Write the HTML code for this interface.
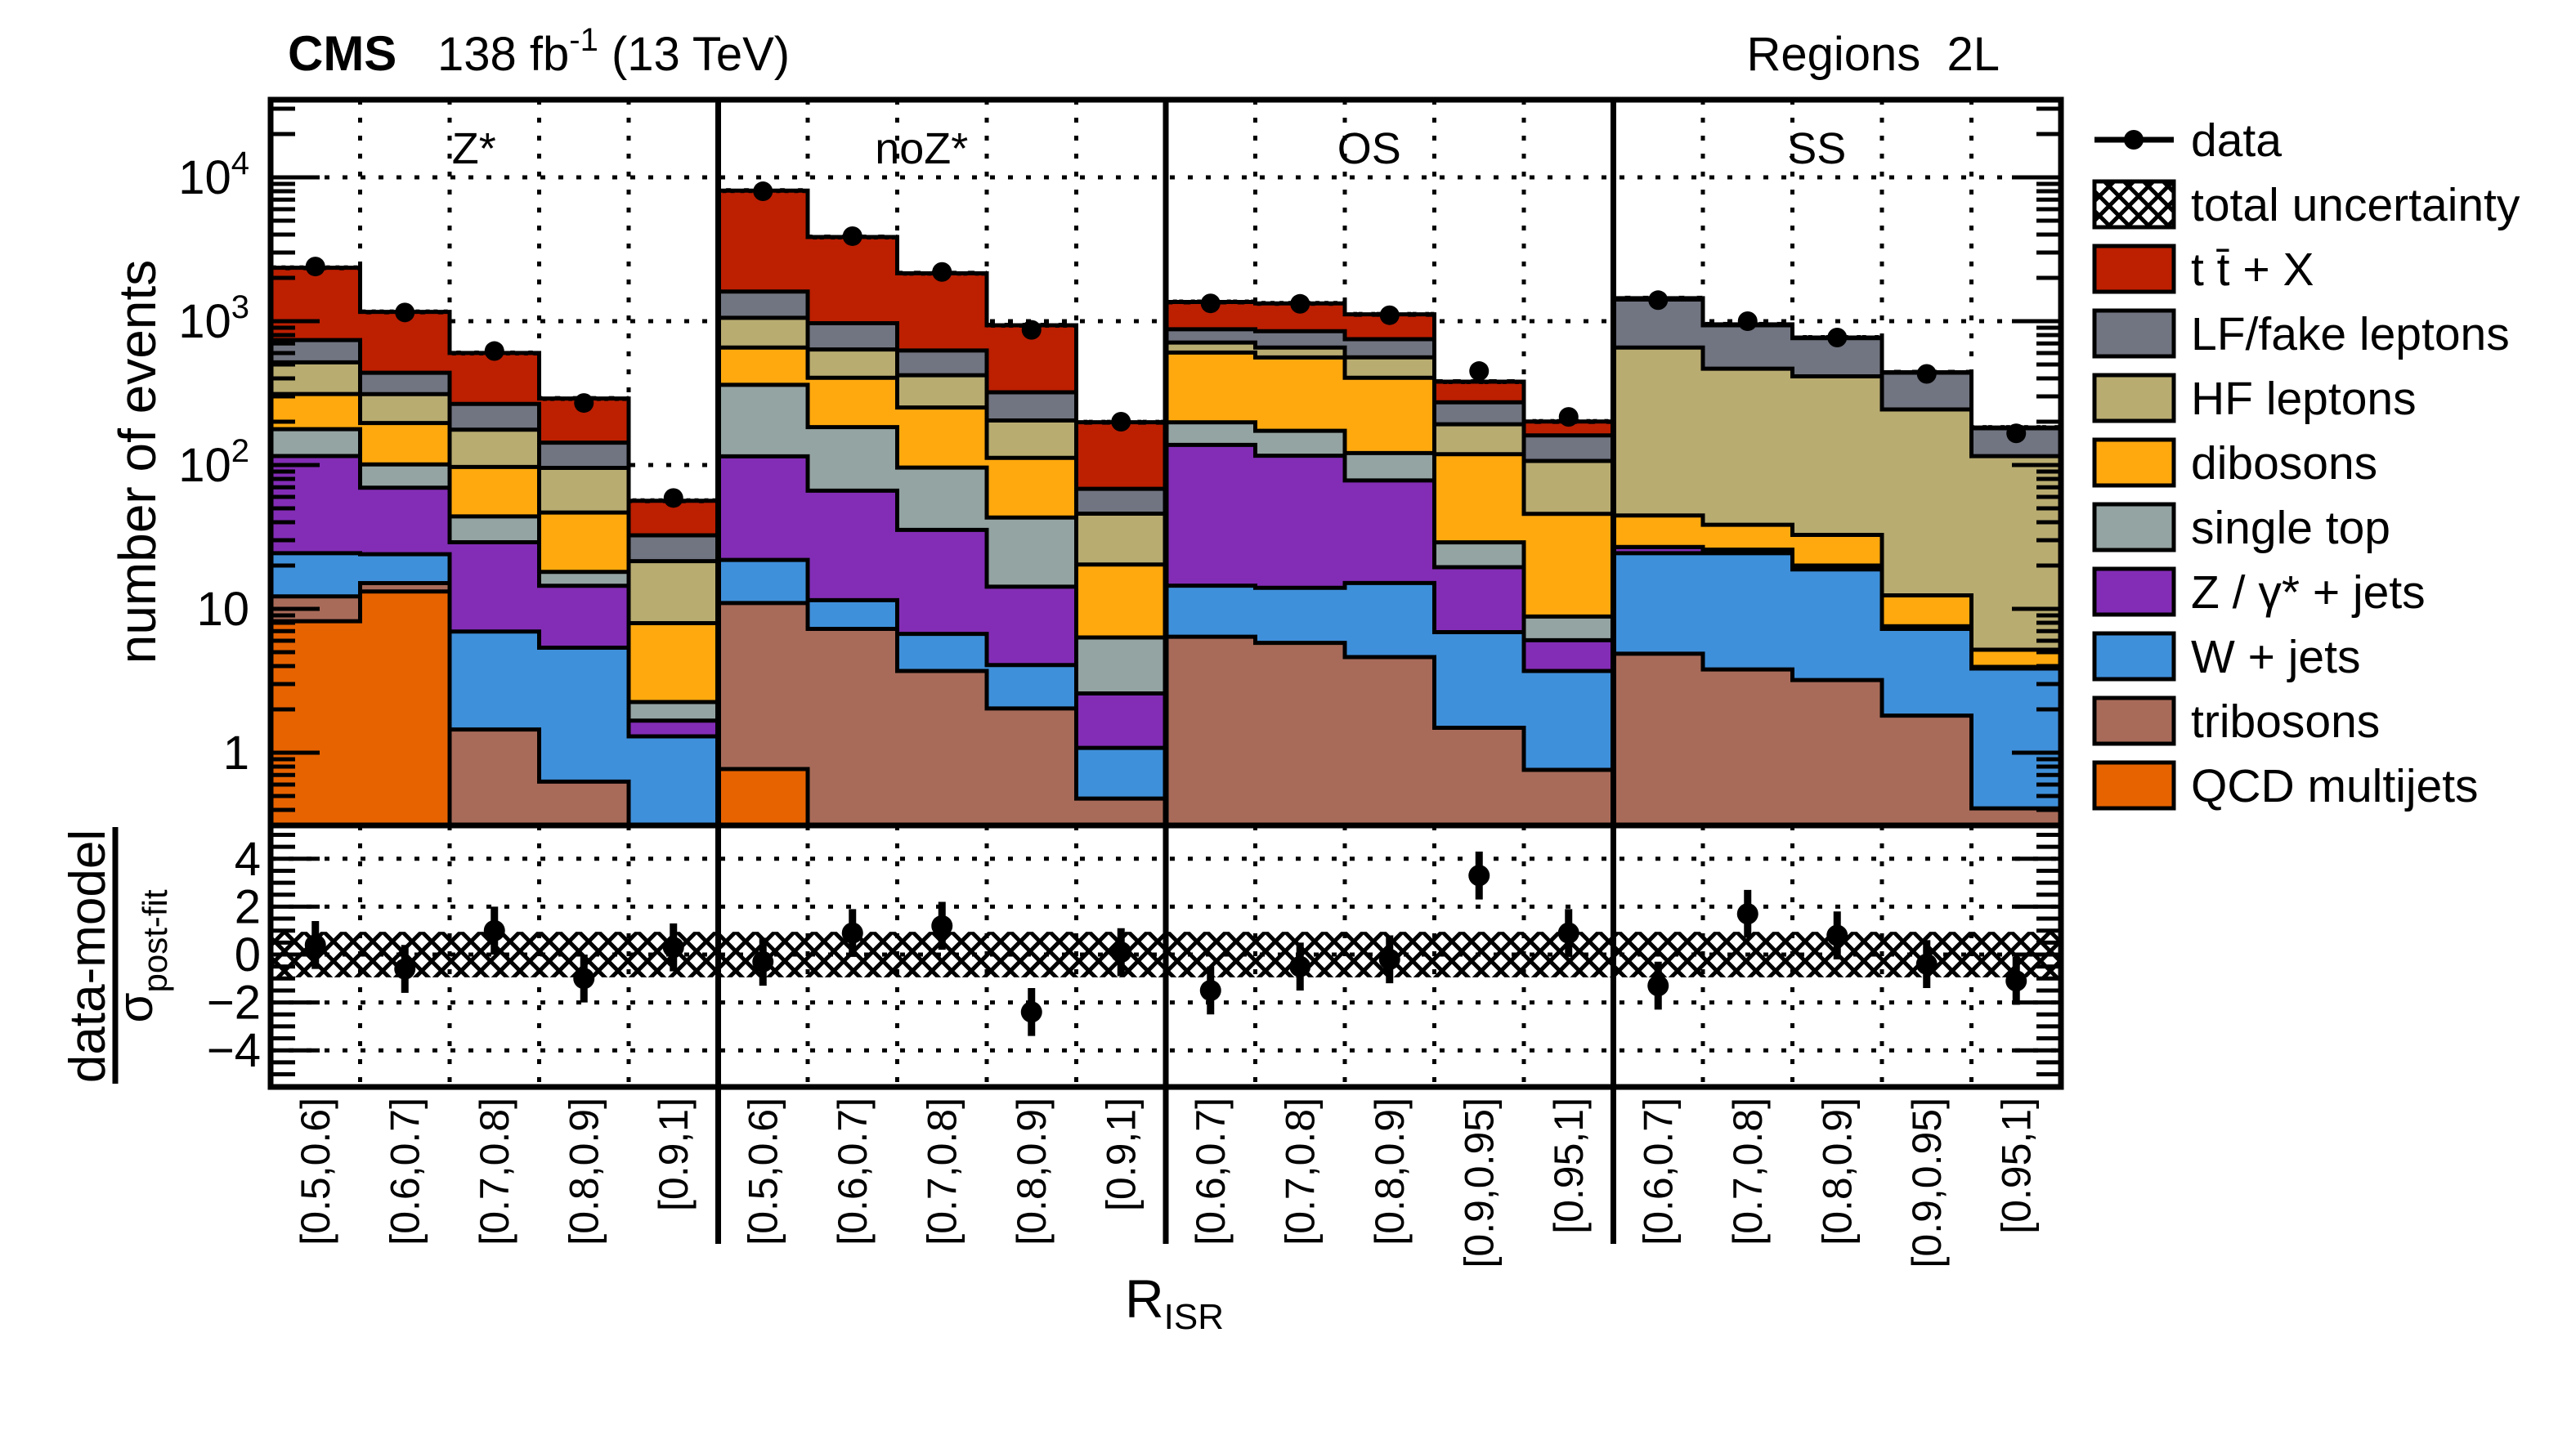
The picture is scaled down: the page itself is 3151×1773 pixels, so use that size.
<!DOCTYPE html>
<html><head><meta charset="utf-8"><style>
html,body{margin:0;padding:0;background:#fff;}
svg{display:block;font-family:"Liberation Sans",Arial,sans-serif;}
</style></head><body>
<svg id="chart" width="3151" height="1773" viewBox="0 0 3151 1773" xmlns="http://www.w3.org/2000/svg">
<defs>
<pattern id="hatch" width="22" height="22" patternUnits="userSpaceOnUse">
<path d="M0,0 L22,22 M22,0 L0,22" stroke="#000" stroke-width="3.5" fill="none"/>
</pattern>
<pattern id="hatch2" width="24" height="24" patternUnits="userSpaceOnUse">
<path d="M0,0 L24,24 M24,0 L0,24" stroke="#000" stroke-width="5" fill="none"/>
</pattern>
<clipPath id="upclip"><rect x="331" y="122" width="2190" height="888"/></clipPath>
</defs>
<g id="grid"></g>
<g id="stack" clip-path="url(#upclip)"></g>
<g id="unc" clip-path="url(#upclip)"></g>
<g id="datapts"></g>
<g id="lower"></g>
<g id="axes"></g>
<g id="legend"></g>

<text x="352" y="86" font-size="60" font-weight="bold">CMS</text>
<text x="535" y="86" font-size="58">138 fb<tspan dy="-24" font-size="40">-1</tspan><tspan dy="24"> (13 TeV)</tspan></text>
<text x="2446" y="86" font-size="58" text-anchor="end">Regions&#160;&#160;2L</text>
<text transform="translate(190,565) rotate(-90)" font-size="64" text-anchor="middle">number of events</text>
<text transform="translate(128,1170) rotate(-90)" font-size="62" text-anchor="middle">data-model</text>
<line x1="141" y1="1012" x2="141" y2="1326" stroke="#000" stroke-width="7"/>
<text transform="translate(186,1170) rotate(-90)" font-size="60" text-anchor="middle">σ<tspan font-size="42" dy="18">post-fit</tspan></text>
<text x="1376" y="1612" font-size="66">R<tspan font-size="44" dy="14">ISR</tspan></text>
</svg>
<script>
const categories = ["[0.5,0.6]","[0.6,0.7]","[0.7,0.8]","[0.8,0.9]","[0.9,1]","[0.5,0.6]","[0.6,0.7]","[0.7,0.8]","[0.8,0.9]","[0.9,1]","[0.6,0.7]","[0.7,0.8]","[0.8,0.9]","[0.9,0.95]","[0.95,1]","[0.6,0.7]","[0.7,0.8]","[0.8,0.9]","[0.9,0.95]","[0.95,1]"];
const regions = ["Z*","noZ*","OS","SS"];
const qcd = [8.2,13.2,0,0,0, 0.77,0,0,0,0, 0,0,0,0,0, 0,0,0,0,0];
const tribosons = [4.0,1.9,1.45,0.63,0, 10.2,7.26,3.7,2.03,0.48, 6.4,5.8,4.62,1.49,0.76, 4.88,3.79,3.2,1.81,0.41];
const wjets = [12.2,8.9,5.5,4.74,1.3, 10.9,4.24,3.0,2.04,0.6, 8.1,8.2,10.5,5.4,2.94, 19.5,20.6,15.6,5.45,3.44];
const zjets = [91,45.5,22.1,9.1,0.37, 93,54.8,28.7,10.2,1.5, 123.5,102,63,12.6,2.35, 2.5,1.4,1.2,0.3,0.1];
const singletop = [62,31.5,14.9,3.6,0.58, 246,117,60.6,28.9,3.75, 60,57,43,9.5,2.8, 0,0,0,0,0];
const dibosons = [134,95,53,28.7,5.7, 295,221,155,69,14, 407,387,283,90,36.9, 17.7,12.6,12.7,4.85,1.25];
const hfleptons = [206,115,79,48.7,13.5, 399,231,170,92,25.6, 105,96,156,73,61, 611,429,381,231,110];
const lffake = [222,127,90,47.5,11, 552,333,204,116,22.4, 169,196,190,81,54, 759,470,348,195,65];
const ttx = [1611,722,335,147,24, 6480,2877,1530,617,130, 481,478,365,107,40, 30,13,8,3,2];
const dataValues = [2400,1150,620,270,59, 8000,3900,2200,870,200, 1330,1320,1100,450,216, 1400,1000,770,430,166];
const pulls = [0.4,-0.6,1.0,-1.0,0.3, -0.3,0.9,1.2,-2.4,0.1, -1.5,-0.5,-0.2,3.3,0.9, -1.3,1.7,0.8,-0.4,-1.1];
const yTickExps = [0,1,2,3,4];
const pullTicks = [4,2,0,-2,-4];

const NS="http://www.w3.org/2000/svg";
const X0=331, X1=2521, UT=122, UB=1010, LT=1010, LB=1330;
const nb=categories.length, bw=(X1-X0)/nb;
function xb(i){return X0+i*bw;}
function yL(v){return v>0? 921-176*Math.log10(v) : UB+30;}
function yP(r){return 1168-29.3*r;}
function mk(tag,attrs,parent){const e=document.createElementNS(NS,tag);for(const k in attrs)e.setAttribute(k,attrs[k]);parent.appendChild(e);return e;}
const G=id=>document.getElementById(id);

const procs=[
 {n:"qcd-multijets",v:qcd,c:"#e76300",l:"QCD multijets"},
 {n:"tribosons",v:tribosons,c:"#a96b59",l:"tribosons"},
 {n:"w-jets",v:wjets,c:"#3f90da",l:"W + jets"},
 {n:"z-gamma-jets",v:zjets,c:"#832db6",l:"Z / γ* + jets"},
 {n:"single-top",v:singletop,c:"#94a4a2",l:"single top"},
 {n:"dibosons",v:dibosons,c:"#ffa90e",l:"dibosons"},
 {n:"hf-leptons",v:hfleptons,c:"#b9ac70",l:"HF leptons"},
 {n:"lf-fake-leptons",v:lffake,c:"#717581",l:"LF/fake leptons"},
 {n:"ttbar-x",v:ttx,c:"#bd1f01",l:"t t̄ + X"}
];

// grid
const grid=G("grid");
const dash={stroke:"#000","stroke-width":5,"stroke-dasharray":"6 16"};
for(let i=1;i<nb;i++){ if(i%5===0)continue;
 let l=mk("line",Object.assign({x1:xb(i),x2:xb(i),y1:UT,y2:UB},dash),grid);
 
 
 let l2=mk("line",Object.assign({x1:xb(i),x2:xb(i),y1:LT,y2:LB},dash),grid);
 
 
}
yTickExps.forEach(e=>{const y=yL(Math.pow(10,e));
 let l=mk("line",Object.assign({x1:X0,x2:X1,y1:y,y2:y},dash),grid);
 
 
});
pullTicks.forEach(t=>{const y=yP(t);
 let l=mk("line",Object.assign({x1:X0,x2:X1,y1:y,y2:y},dash),grid);
 
 
});

// stacks: fills
const st=G("stack");
const cumLevels=[];
let prev=new Array(nb).fill(0);
procs.forEach(p=>{
 const cur=prev.map((c,i)=>c+p.v[i]);
 for(let i=0;i<nb;i++){
  if(p.v[i]<=0)continue;
  const y1=yL(cur[i]), y0=yL(prev[i]);
  const r=mk("rect",{x:xb(i),y:y1,width:bw+0.5,height:Math.max(0,y0-y1),fill:p.c},st);
  
  
 }
 cumLevels.push(cur);
 prev=cur;
});
const totals=prev;
cumLevels.forEach((cur,k)=>{
 let d="";
 for(let i=0;i<nb;i++){
  const y=yL(cur[i]);
  d+=(i===0?`M${xb(i)},${y}`:`L${xb(i)},${y}`)+` L${xb(i+1)},${y}`;
 }
 const pth=mk("path",{d:d,fill:"none",stroke:"#000","stroke-width":5},st);
 
 
});
// uncertainty
const un=G("unc");
totals.forEach((t,i)=>{
 const r=mk("rect",{x:xb(i),y:yL(t*1.04),width:bw,height:yL(t/1.04)-yL(t*1.04),fill:"url(#hatch)"},un);
 
 
});
// data points
const dp=G("datapts");
dataValues.forEach((d,i)=>{
 const cx=xb(i)+bw/2, e=Math.sqrt(d);
 const l=mk("line",{x1:cx,x2:cx,y1:yL(d+e),y2:yL(Math.max(d-e,0.5)),stroke:"#000","stroke-width":5},dp);
 
 
 const c=mk("circle",{cx:cx,cy:yL(d),r:12,fill:"#000"},dp);
 
 
});
// lower panel
const lo=G("lower");
const band=mk("rect",{x:X0,y:yP(0.95),width:X1-X0,height:yP(-0.95)-yP(0.95),fill:"url(#hatch2)"},lo);


pulls.forEach((p,i)=>{
 const cx=xb(i)+bw/2;
 const l=mk("line",{x1:cx,x2:cx,y1:yP(p+1),y2:yP(p-1),stroke:"#000","stroke-width":9},lo);
 
 
 const c=mk("circle",{cx:cx,cy:yP(p),r:13,fill:"#000"},lo);
 
 
});
// axes / frames
const ax=G("axes");
let f1=mk("rect",{x:X0,y:UT,width:X1-X0,height:UB-UT,fill:"none",stroke:"#000","stroke-width":7},ax);


let f2=mk("rect",{x:X0,y:LT,width:X1-X0,height:LB-LT,fill:"none",stroke:"#000","stroke-width":7},ax);


for(let k=1;k<4;k++){
 const x=xb(k*5);
 const l=mk("line",{x1:x,x2:x,y1:UT,y2:1522,stroke:"#000","stroke-width":7},ax);
 
 
}
for(let e=-1;e<=4;e++){
 for(let m=1;m<=9;m++){
  const v=m*Math.pow(10,e); const y=yL(v);
  if(y<UT||y>UB)continue;
  const len=m===1?60:30;
  const a=mk("line",{x1:X0,x2:X0+len,y1:y,y2:y,stroke:"#000","stroke-width":5},ax);
  
  
  const b=mk("line",{x1:X1-len,x2:X1,y1:y,y2:y,stroke:"#000","stroke-width":5},ax);
  
  
 }
}
yTickExps.forEach(e=>{
 const y=yL(Math.pow(10,e))+20;
 const t=mk("text",{x:305,y:y,"font-size":58,"text-anchor":"end"},ax);
 
 
 if(e===0)t.textContent="1"; else if(e===1)t.textContent="10";
 else {t.textContent="10"; const s=mk("tspan",{dy:-24,"font-size":40},t); s.textContent=String(e);}
});
for(let r=-5.5;r<=5.5;r+=0.5){
 const y=yP(r); if(y<LT+4||y>LB-4)continue;
 const major=Math.abs(r%2)<1e-9&&Math.abs(r)<=4;
 const len=major?60:30;
 const a=mk("line",{x1:X0,x2:X0+len,y1:y,y2:y,stroke:"#000","stroke-width":5},ax);
 
 
 const b=mk("line",{x1:X1-len,x2:X1,y1:y,y2:y,stroke:"#000","stroke-width":5},ax);
 
 
}
pullTicks.forEach(p=>{
 const t=mk("text",{x:319,y:yP(p)+20,"font-size":58,"text-anchor":"end"},ax);
 
 
 t.textContent=p<0?"−"+Math.abs(p):String(p);
});
categories.forEach((c,i)=>{
 const cx=xb(i)+bw/2+17;
 const t=mk("text",{transform:`translate(${cx},1343) rotate(-90)`,"font-size":50,"text-anchor":"end"},ax);
 
 
 t.textContent=c;
});
regions.forEach((r,k)=>{
 const cx=xb(k*5)+2.5*bw;
 const t=mk("text",{x:cx-25,y:200,"font-size":54,"text-anchor":"middle"},ax);
 
 
 t.textContent=r;
});
const lg=G("legend");
const LX=2562, LW=97, TX=2680;
function ly(i){return 171+i*79;}
let dl=mk("line",{x1:LX,x2:LX+97,y1:ly(0),y2:ly(0),stroke:"#000","stroke-width":7},lg);


let dc=mk("circle",{cx:LX+48,cy:ly(0),r:12,fill:"#000"},lg);


let hb=mk("rect",{x:LX,y:ly(1)-28,width:LW,height:56,fill:"url(#hatch2)",stroke:"#000","stroke-width":5},lg);


const entries=[{l:"data"},{l:"total uncertainty"}].concat(procs.slice().reverse());
entries.forEach((p,i)=>{
 if(i>=2){
  const r=mk("rect",{x:LX,y:ly(i)-28,width:LW,height:56,fill:p.c,stroke:"#000","stroke-width":5},lg);
  
  
 }
 const t=mk("text",{x:TX,y:ly(i)+20,"font-size":57},lg);
 
 
 t.textContent=p.l;
});
</script>
</body></html>
